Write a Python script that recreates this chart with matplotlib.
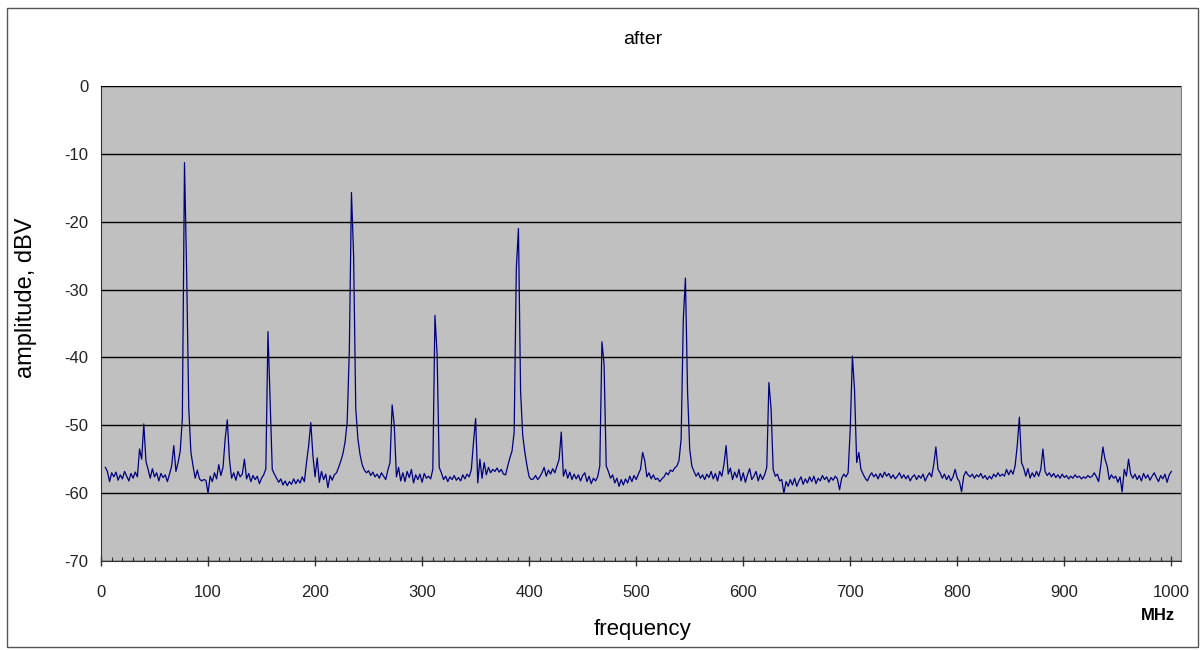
import numpy as np
import matplotlib
matplotlib.use("Agg")
import matplotlib.pyplot as plt
from matplotlib.patches import Rectangle
from matplotlib.ticker import MultipleLocator

plt.rcParams['font.family'] = ['Liberation Sans', 'DejaVu Sans']
plt.rcParams['axes.unicode_minus'] = False

# sweep: 4 MHz to 1000 MHz, one reading every 2 MHz
f_start, f_stop, f_step = 4, 1000, 2

# measured level in dBV, 20 readings (40 MHz) per row
amplitude = [
    -56.2, -56.8, -58.3, -57.0, -57.6, -56.9, -58.1, -57.3, -57.9, -56.8, -57.5, -58.2, -57.1, -57.8, -56.9, -57.6, -53.5, -55.0, -49.8, -55.3,
    -56.5, -57.8, -56.4, -57.6, -57.0, -58.2, -57.1, -57.7, -57.3, -58.3, -57.2, -56.0, -53.0, -56.8, -55.5, -53.8, -49.0, -11.3, -27.3, -47.5,
    -54.0, -56.0, -57.8, -56.6, -57.9, -58.2, -58.0, -58.1, -60.0, -57.5, -58.3, -57.0, -57.9, -55.8, -57.4, -56.2, -52.0, -49.2, -55.0, -57.8,
    -57.0, -58.1, -56.8, -57.6, -57.2, -55.0, -57.9, -57.1, -58.3, -57.4, -58.0, -57.5, -58.6, -57.8, -57.3, -56.4, -36.2, -46.5, -56.5, -57.2,
    -57.8, -58.4, -57.9, -58.8, -58.2, -58.9, -58.3, -58.7, -57.9, -58.6, -58.0, -58.5, -57.6, -58.3, -55.5, -53.0, -49.6, -54.5, -57.6, -54.8,
    -58.4, -56.8, -58.0, -57.2, -59.2, -57.4, -58.1, -57.3, -57.0, -56.2, -55.3, -54.2, -52.5, -49.5, -39.0, -15.7, -25.0, -47.5, -52.0, -54.3,
    -55.8, -56.6, -57.0, -56.7, -57.4, -56.9, -57.6, -57.2, -57.8, -57.0, -57.5, -58.0, -56.6, -55.5, -47.0, -50.0, -57.6, -56.2, -58.2, -57.0,
    -58.3, -56.8, -57.7, -56.5, -58.5, -57.3, -58.0, -57.2, -58.4, -57.1, -57.8, -57.5, -57.9, -56.5, -33.8, -39.5, -56.2, -57.0, -58.0, -57.5,
    -58.3, -57.6, -58.0, -57.4, -58.1, -57.7, -58.2, -57.3, -57.9, -57.2, -57.6, -56.5, -52.5, -49.0, -58.5, -55.0, -57.8, -55.5, -57.3, -56.2,
    -57.0, -56.5, -56.8, -56.3, -56.9, -56.5, -57.2, -57.3, -56.0, -54.8, -53.8, -51.0, -27.0, -21.0, -45.0, -51.5, -54.0, -56.0, -57.6, -58.0,
    -57.9, -57.4, -58.0, -57.6, -57.0, -56.2, -57.5, -56.6, -57.2, -56.4, -57.0, -56.0, -55.0, -51.0, -57.5, -56.5, -57.8, -56.9, -58.0, -57.2,
    -57.9, -57.3, -58.2, -57.4, -57.0, -58.3, -57.5, -58.6, -57.8, -58.2, -57.6, -56.0, -37.7, -41.0, -56.0, -56.8, -57.8, -57.3, -58.5, -57.8,
    -59.0, -58.0, -58.8, -57.9, -58.5, -57.5, -58.3, -57.4, -58.0, -57.2, -56.5, -54.0, -55.2, -57.6, -57.0, -57.9, -57.3, -58.0, -57.8, -58.3,
    -57.9, -57.6, -57.0, -57.3, -56.6, -56.8, -56.3, -56.0, -55.2, -52.0, -34.5, -28.3, -45.0, -53.5, -56.0, -56.8, -57.5, -57.0, -57.8, -57.3,
    -58.0, -57.2, -57.7, -56.8, -57.9, -57.1, -58.2, -56.8, -57.5, -55.8, -53.0, -57.2, -56.3, -58.0, -56.9, -57.7, -56.5, -58.2, -57.0, -58.4,
    -57.3, -56.4, -58.0, -57.5, -56.8, -58.2, -57.2, -58.0, -57.3, -56.2, -43.7, -47.5, -56.5, -57.5, -57.2, -58.2, -58.0, -60.0, -58.3, -59.0,
    -58.0, -58.8, -57.8, -59.0, -58.2, -57.6, -58.7, -57.9, -58.5, -57.6, -58.3, -57.5, -58.6, -57.8, -58.2, -57.4, -58.0, -57.6, -58.4, -57.7,
    -58.1, -57.5, -57.9, -59.5, -57.8, -57.2, -57.6, -57.0, -50.5, -39.8, -44.8, -55.5, -54.0, -56.5, -57.2, -57.8, -58.2, -57.5, -57.0, -57.6,
    -57.2, -57.9, -57.1, -57.7, -56.9, -57.5, -57.1, -57.8, -57.3, -57.9, -57.5, -57.0, -57.8, -57.3, -57.9, -57.4, -58.2, -57.6, -57.3, -58.0,
    -57.4, -57.8, -57.2, -58.2, -57.5, -57.0, -57.6, -55.8, -53.2, -56.5, -57.0, -57.8, -57.2, -58.0, -57.4, -58.2, -57.6, -56.5, -57.8, -58.3,
    -59.8, -57.5, -56.8, -57.3, -57.6, -57.2, -57.8, -57.3, -57.6, -57.1, -57.8, -57.4, -58.0, -57.5, -57.9, -57.2, -57.6, -57.0, -57.5, -57.2,
    -57.5, -56.5, -57.3, -56.6, -57.2, -56.0, -53.0, -48.8, -55.5, -56.3, -57.5, -56.4, -57.8, -57.0, -57.6, -56.8, -57.5, -56.5, -53.5, -56.8,
    -57.4, -57.0, -57.6, -57.1, -57.7, -57.3, -57.8, -57.2, -57.7, -57.4, -57.9, -57.5, -57.8, -57.3, -57.7, -57.5, -57.9, -57.6, -57.8, -57.4,
    -57.7, -57.5, -57.0, -57.6, -58.3, -56.0, -53.2, -55.0, -56.0, -58.0, -57.3, -57.8, -57.5, -58.4, -57.6, -59.8, -56.5, -57.5, -55.0, -57.2,
    -57.8, -57.2, -58.0, -57.4, -58.2, -57.1, -57.8, -57.3, -58.1, -57.5, -57.0, -57.7, -58.3, -57.4, -57.9, -57.2, -58.4, -57.3, -56.8,
]

y_ticks = [0, -10, -20, -30, -40, -50, -60, -70]
x_ticks = [0, 100, 200, 300, 400, 500, 600, 700, 800, 900, 1000]

freq = np.arange(f_start, f_stop + 1, f_step)

W, H = 1204, 650
fig = plt.figure(figsize=(W / 100, H / 100), dpi=100)
ax = fig.add_axes([101 / W, 1 - 561 / H, (1181 - 101) / W, (561 - 86) / H])

ax.set_facecolor('#c0c0c0')
ax.plot(freq, amplitude, color='#000080', lw=0.9)

ax.set_xlim(0, 1009)
ax.set_ylim(-70, 0)
ax.set_yticks(y_ticks)
ax.set_xticks(x_ticks)
ax.xaxis.set_minor_locator(MultipleLocator(10))
ax.yaxis.grid(True, color='black', lw=1)
ax.set_axisbelow(False)

ax.tick_params(axis='y', length=0, pad=9, labelsize=12, labelcolor='#222222')
ax.tick_params(axis='x', which='major', direction='inout', length=7, width=1,
               color='#333333', pad=14, labelsize=12, labelcolor='#222222')
ax.tick_params(axis='x', which='minor', direction='in', length=3, width=0.8, color='#333333')

for side in ['top', 'right']:
    ax.spines[side].set_color('#808080')
for side in ['left', 'bottom']:
    ax.spines[side].set_color('#333333')

fig.text(643 / W, 1 - 40 / H, 'after', ha='center', va='center', fontsize=14)
fig.text(643 / W, 1 - 630 / H, 'frequency', ha='center', va='center', fontsize=16)
fig.text(26 / W, 1 - 298 / H, 'amplitude, dBV', ha='center', va='center',
         rotation=90, fontsize=17)
fig.text(1158 / W, 1 - 615 / H, 'MHz', ha='center', va='center',
         fontsize=12, fontweight='bold')

# chart frame
fig.patches.append(Rectangle((7 / W, 1 - 647 / H), (1198 - 7) / W, (647 - 8) / H,
                             transform=fig.transFigure, fill=False,
                             edgecolor='#555555', lw=1))

fig.savefig('out.png', dpi=100)
